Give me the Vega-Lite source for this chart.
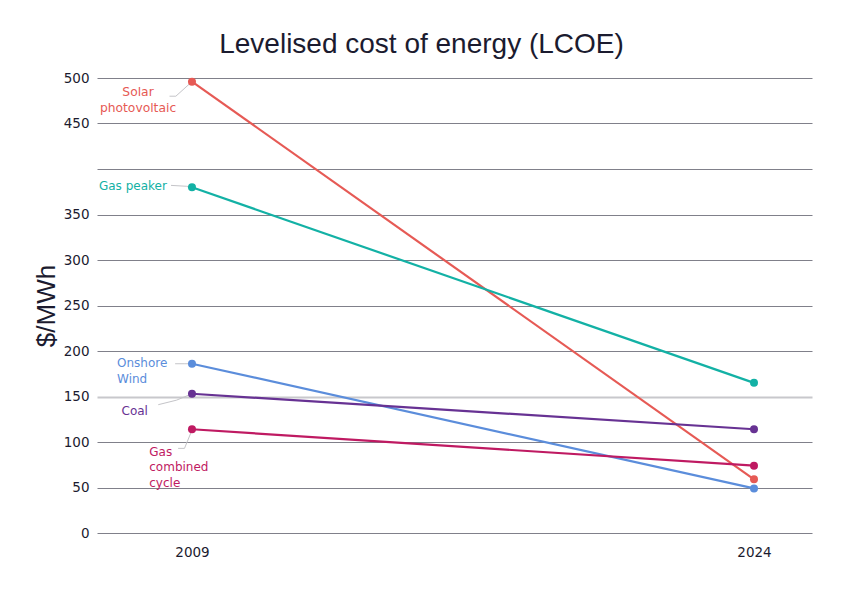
{
  "$schema": "https://vega.github.io/schema/vega-lite/v6.json",
  "width": 715,
  "height": 455,
  "autosize": "none",
  "padding": {"left": 97, "top": 78, "right": 30, "bottom": 63},
  "background": "white",
  "title": {
    "text": "Levelised cost of energy (LCOE)",
    "font": "Liberation Sans",
    "fontSize": 28,
    "fontWeight": "normal",
    "color": "#1b1b2f",
    "anchor": "middle",
    "dx": -33,
    "offset": 12
  },
  "config": {
    "view": {"stroke": null},
    "axis": {"labelFont": "DejaVu Sans", "labelFontSize": 13.5, "labelColor": "#1b1b2f"}
  },
  "datasets": {
    "costs": [
      {"tech": "Solar photovoltaic", "year": 2009, "cost": 496},
      {"tech": "Solar photovoltaic", "year": 2024, "cost": 59},
      {"tech": "Gas peaker", "year": 2009, "cost": 380},
      {"tech": "Gas peaker", "year": 2024, "cost": 165},
      {"tech": "Onshore Wind", "year": 2009, "cost": 186},
      {"tech": "Onshore Wind", "year": 2024, "cost": 49},
      {"tech": "Coal", "year": 2009, "cost": 153},
      {"tech": "Coal", "year": 2024, "cost": 114},
      {"tech": "Gas combined cycle", "year": 2009, "cost": 114},
      {"tech": "Gas combined cycle", "year": 2024, "cost": 74}
    ],
    "labels": [
      {"tech": "Solar photovoltaic", "side": "center", "lx": 2007.56, "ly": 480, "label": ["Solar", "photovoltaic"]},
      {"tech": "Gas peaker", "side": "right", "lx": 2008.33, "ly": 377, "label": ["Gas peaker"]},
      {"tech": "Onshore Wind", "side": "left", "lx": 2007.0, "ly": 182, "label": ["Onshore", "Wind"]},
      {"tech": "Coal", "side": "left", "lx": 2007.12, "ly": 130, "label": ["Coal"]},
      {"tech": "Gas combined cycle", "side": "left", "lx": 2007.86, "ly": 85, "label": ["Gas", "combined", "cycle"]}
    ],
    "leaders": [
      {"tech": "Solar photovoltaic", "step": 1, "lx": 2008.40, "ly": 480},
      {"tech": "Solar photovoltaic", "step": 2, "lx": 2008.57, "ly": 480},
      {"tech": "Solar photovoltaic", "step": 3, "lx": 2009, "ly": 496},
      {"tech": "Gas peaker", "step": 1, "lx": 2008.44, "ly": 382},
      {"tech": "Gas peaker", "step": 2, "lx": 2008.86, "ly": 381},
      {"tech": "Gas peaker", "step": 3, "lx": 2009, "ly": 380},
      {"tech": "Onshore Wind", "step": 1, "lx": 2008.55, "ly": 186},
      {"tech": "Onshore Wind", "step": 2, "lx": 2008.81, "ly": 186},
      {"tech": "Onshore Wind", "step": 3, "lx": 2009, "ly": 186},
      {"tech": "Coal", "step": 1, "lx": 2008.10, "ly": 141},
      {"tech": "Coal", "step": 2, "lx": 2008.59, "ly": 146},
      {"tech": "Coal", "step": 3, "lx": 2009, "ly": 153},
      {"tech": "Gas combined cycle", "step": 1, "lx": 2008.63, "ly": 93},
      {"tech": "Gas combined cycle", "step": 2, "lx": 2008.80, "ly": 93},
      {"tech": "Gas combined cycle", "step": 3, "lx": 2008.97, "ly": 110}
    ]
  },
  "layer": [
    {
      "data": {"name": "leaders"},
      "mark": {"type": "line", "color": "#c4c4c8", "strokeWidth": 1},
      "encoding": {
        "x": {
          "field": "lx", "type": "quantitative",
          "scale": {"domain": [2006.465, 2025.548], "nice": false, "zero": false},
          "axis": {"values": [2009, 2024], "format": "d", "title": null, "grid": false, "domain": false, "ticks": false, "labelPadding": 12}
        },
        "y": {
          "field": "ly", "type": "quantitative",
          "scale": {"domain": [0, 500], "nice": false},
          "axis": {
            "values": [0, 50, 100, 150, 200, 250, 300, 350, 400, 450, 500],
            "labelExpr": "datum.value === 400 ? '' : datum.label",
            "title": "$/MWh",
            "titleFont": "Liberation Sans",
            "titleFontSize": 26,
            "titleFontWeight": "normal",
            "titleColor": "#1b1b2f",
            "titlePadding": 4,
            "domain": false,
            "ticks": false,
            "labelPadding": 8,
            "grid": true,
            "gridColor": {"condition": {"test": "datum.value === 150", "value": "#c8c8cc"}, "value": "#80808a"},
            "gridWidth": {"condition": {"test": "datum.value === 150", "value": 2}, "value": 1}
          }
        },
        "detail": {"field": "tech"},
        "order": {"field": "step"}
      }
    },
    {
      "data": {"name": "costs"},
      "mark": {"type": "line", "strokeWidth": 2.2},
      "encoding": {
        "x": {"field": "year", "type": "quantitative"},
        "y": {"field": "cost", "type": "quantitative"},
        "color": {
          "field": "tech", "type": "nominal", "legend": null,
          "scale": {
            "domain": ["Solar photovoltaic", "Gas peaker", "Onshore Wind", "Coal", "Gas combined cycle"],
            "range": ["#e65a55", "#13b1a5", "#5b8ddb", "#673293", "#bf1a62"]
          }
        }
      }
    },
    {
      "data": {"name": "costs"},
      "mark": {"type": "circle", "size": 64, "opacity": 1},
      "encoding": {
        "x": {"field": "year", "type": "quantitative"},
        "y": {"field": "cost", "type": "quantitative"},
        "color": {"field": "tech", "type": "nominal", "legend": null}
      }
    },
    {
      "data": {"name": "labels"},
      "transform": [{"filter": "datum.side === 'center'"}],
      "mark": {"type": "text", "align": "center", "baseline": "alphabetic", "font": "DejaVu Sans", "fontSize": 12.3, "lineHeight": 15.5},
      "encoding": {
        "x": {"field": "lx", "type": "quantitative"},
        "y": {"field": "ly", "type": "quantitative"},
        "text": {"field": "label"},
        "color": {"field": "tech", "type": "nominal", "legend": null}
      }
    },
    {
      "data": {"name": "labels"},
      "transform": [{"filter": "datum.side === 'right'"}],
      "mark": {"type": "text", "align": "right", "baseline": "alphabetic", "font": "DejaVu Sans", "fontSize": 12, "lineHeight": 15.5},
      "encoding": {
        "x": {"field": "lx", "type": "quantitative"},
        "y": {"field": "ly", "type": "quantitative"},
        "text": {"field": "label"},
        "color": {"field": "tech", "type": "nominal", "legend": null}
      }
    },
    {
      "data": {"name": "labels"},
      "transform": [{"filter": "datum.side === 'left'"}],
      "mark": {"type": "text", "align": "left", "baseline": "alphabetic", "font": "DejaVu Sans", "fontSize": 12, "lineHeight": 15.5},
      "encoding": {
        "x": {"field": "lx", "type": "quantitative"},
        "y": {"field": "ly", "type": "quantitative"},
        "text": {"field": "label"},
        "color": {"field": "tech", "type": "nominal", "legend": null}
      }
    }
  ]
}
